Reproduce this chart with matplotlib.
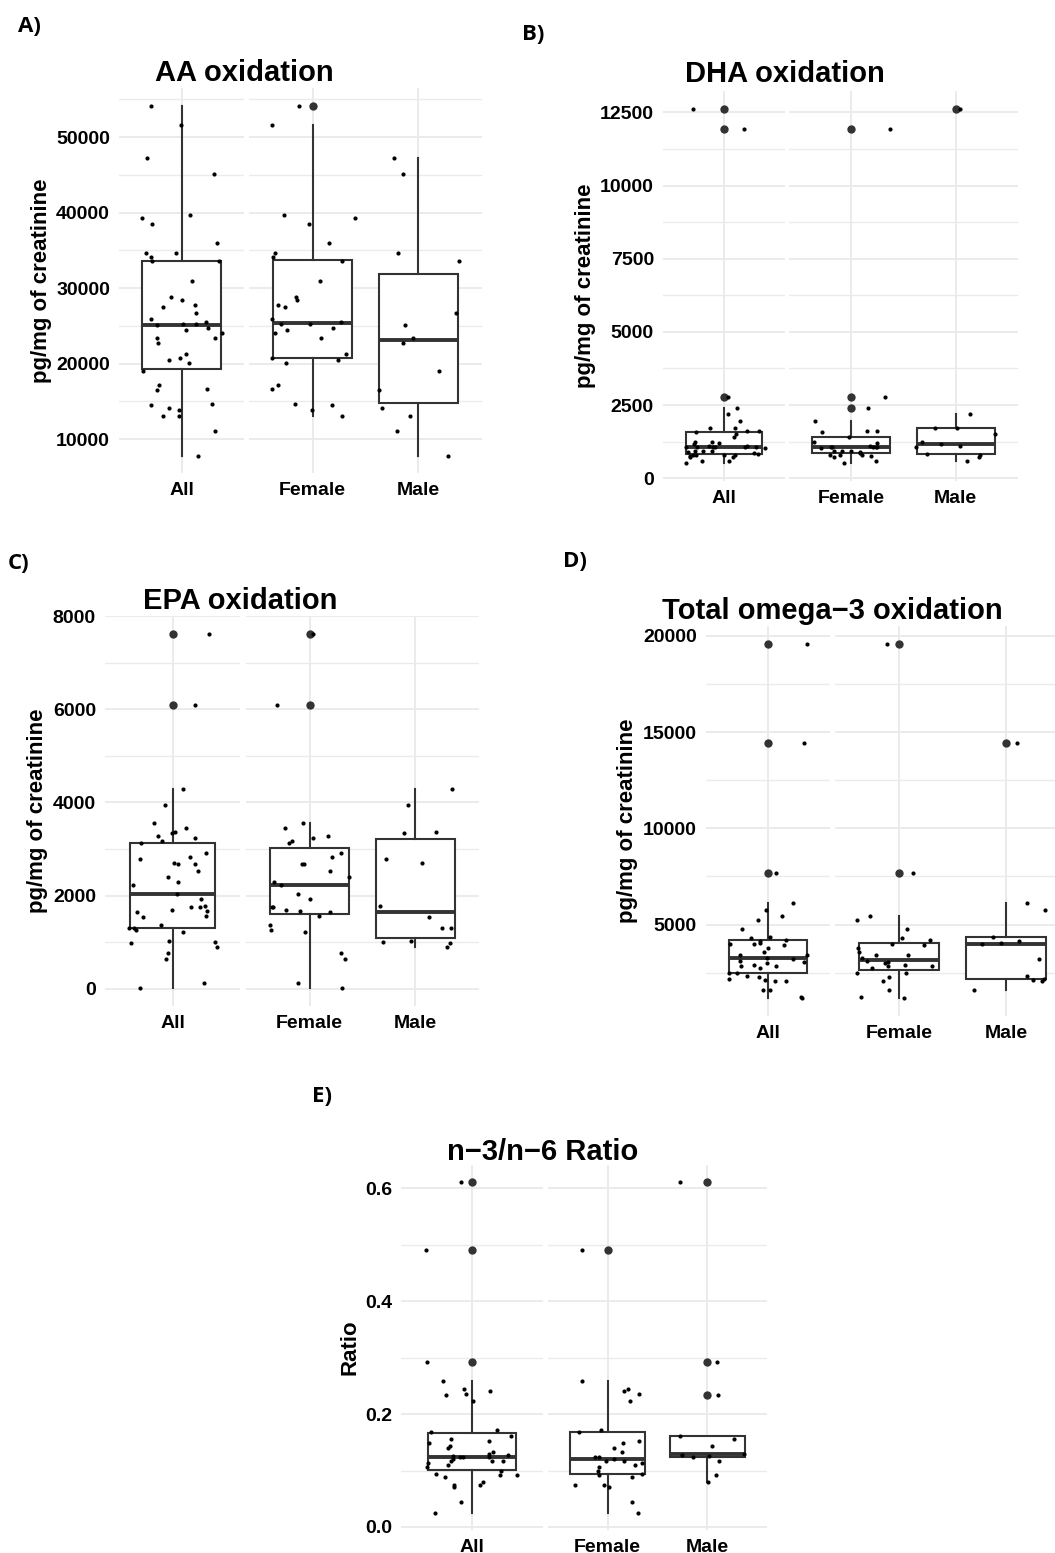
import numpy as np
import matplotlib
matplotlib.use("Agg")
import matplotlib.pyplot as plt
from matplotlib.ticker import MultipleLocator, FormatStrFormatter

plt.rcParams['font.family'] = ['Liberation Sans', 'DejaVu Sans']

groups = ['All', 'Female', 'Male']

# values (All = Female + Male)
aa_female = [54200, 51680, 39747, 39260, 38509, 36034, 34708, 34089, 33559, 30907,
             28873, 28432, 27724, 27547, 25956, 25514, 25293, 25249, 24763, 24409,
             24011, 23437, 21315, 20785, 20431, 20033, 17205, 16674, 14685, 14508,
             13889, 13094]
aa_male = [47261, 45095, 34708, 33647, 26752, 25072, 23437, 22730, 19017, 16453,
           14155, 13094, 11017, 7834]

dha_female = [11919, 2789, 2402, 1970, 1628, 1628, 1594, 1423, 1252, 1207, 1116,
              1081, 1081, 1081, 1081, 1059, 1036, 922, 922, 922, 899, 854, 808, 808,
              808, 763, 740, 603, 512]
dha_male = [12625, 2197, 1708, 1708, 1514, 1229, 1173, 1116, 1081, 831, 808, 717, 603]

epa_female = [7627, 6100, 3555, 3448, 3269, 3247, 3176, 3125, 2910, 2839, 2688, 2674,
              2530, 2394, 2301, 2229, 2036, 1921, 1763, 1763, 1692, 1677, 1642, 1563,
              1369, 1262, 1226, 774, 645, 115, 7]
epa_male = [4286, 3950, 3369, 3347, 2788, 2695, 1778, 1534, 1312, 1297, 1025, 1011,
            975, 889]

om3_female = [19584, 7682, 5467, 5225, 4792, 4308, 4204, 4014, 3945, 3806, 3599, 3426,
              3426, 3270, 3097, 3080, 2993, 2907, 2872, 2872, 2734, 2474, 2474, 2301,
              2076, 1592, 1263, 1177]
om3_male = [14411, 6142, 5778, 4377, 4170, 4066, 4014, 3236, 2353, 2180, 2146, 2094, 1627]

ratio_female = [0.491, 0.259, 0.245, 0.241, 0.236, 0.224, 0.171, 0.169, 0.153, 0.149,
                0.140, 0.133, 0.124, 0.124, 0.121, 0.117, 0.117, 0.113, 0.109, 0.106,
                0.100, 0.094, 0.092, 0.088, 0.074, 0.074, 0.071, 0.044, 0.024]
ratio_male = [0.612, 0.292, 0.233, 0.162, 0.156, 0.143, 0.129, 0.128, 0.125, 0.124,
              0.116, 0.092, 0.079]

W, H = 1055, 1553
fig = plt.figure(figsize=(W / 100, H / 100), dpi=100)
rng = np.random.default_rng(11)  # jitter only

LINE = '#333333'
GRID = '#EBEBEB'


def px_axes(x0, x1, y0, y1, **kw):
    return fig.add_axes([x0 / W, 1 - y1 / H, (x1 - x0) / W, (y1 - y0) / H], **kw)


def draw_facet(ax, data, positions, labels):
    ax.boxplot(data, positions=positions, widths=0.75, whis=1.5, patch_artist=True,
               showcaps=False,
               boxprops=dict(facecolor='white', edgecolor=LINE, linewidth=1.5),
               medianprops=dict(color=LINE, linewidth=2.8),
               whiskerprops=dict(color=LINE, linewidth=1.5),
               flierprops=dict(marker='o', markerfacecolor=LINE, markeredgecolor='none',
                               markersize=6), zorder=2)
    for p, vals in zip(positions, data):
        off = rng.uniform(-0.4, 0.4, len(vals))
        ax.scatter(p + off, vals, s=9, color='black', linewidths=0, zorder=4)
    ax.set_xticks(positions)
    ax.set_xticklabels(labels, fontsize=14, fontweight='bold')
    ax.grid(axis='x', color=GRID, linewidth=1.4, zorder=0)
    for s in ax.spines.values():
        s.set_visible(False)
    ax.tick_params(length=0, which='both', pad=6.5)
    ax.set_axisbelow(True)


def panel(female, male, title, ylabel, major, fmt, L, R, top, bot, title_xy, ylab_x, tag, tag_xy):
    allv = female + male
    axL = px_axes(L[0], L[1], top, bot)
    axR = px_axes(R[0], R[1], top, bot, sharey=axL)
    draw_facet(axL, [allv], [1], groups[:1])
    draw_facet(axR, [female, male], [1, 2], groups[1:])
    axL.set_xlim(0.4, 1.6)
    axR.set_xlim(0.4, 2.6)
    lo, hi = min(allv), max(allv)
    pad = 0.05 * (hi - lo)
    axL.set_ylim(lo - pad, hi + pad)
    for ax in (axL, axR):
        ax.yaxis.set_major_locator(MultipleLocator(major))
        ax.yaxis.set_minor_locator(MultipleLocator(major / 2))
        ax.grid(axis='y', which='major', color=GRID, linewidth=1.4, zorder=0)
        ax.grid(axis='y', which='minor', color=GRID, linewidth=1.0, zorder=0)
    axL.yaxis.set_major_formatter(FormatStrFormatter(fmt))
    for t in axL.get_yticklabels():
        t.set_fontsize(14)
        t.set_fontweight('bold')
    axR.tick_params(axis='y', labelleft=False)
    fig.text(title_xy[0] / W, 1 - title_xy[1] / H, title, fontsize=21, fontweight='bold',
             ha='center', va='center')
    fig.text(ylab_x / W, 1 - (top + bot) / 2 / H, ylabel, fontsize=16, fontweight='bold',
             rotation=90, ha='center', va='center')
    fig.text(tag_xy[0] / W, 1 - tag_xy[1] / H, tag, fontsize=16, fontweight='bold',
             family=['Open Sans', 'DejaVu Sans'], ha='left', va='center')


ylab = 'pg/mg of creatinine'
panel(aa_female, aa_male, 'AA oxidation', ylab, 10000, '%d',
      (119, 244), (249, 482), 88, 473, (244, 73), 42, 'A)', (18, 26))
panel(dha_female, dha_male, 'DHA oxidation', ylab, 2500, '%d',
      (663, 785), (789, 1018), 91, 481, (785, 74), 585, 'B)', (522, 35))
panel(epa_female, epa_male, 'EPA oxidation', ylab, 2000, '%d',
      (105, 240), (246, 479), 616, 1006, (240, 601), 38, 'C)', (8, 563))
panel(om3_female, om3_male, 'Total omega\u22123 oxidation', ylab, 5000, '%d',
      (706, 830), (835, 1070), 626, 1016, (832, 611), 627, 'D)', (563, 561))
panel(ratio_female, ratio_male, 'n\u22123/n\u22126 Ratio', 'Ratio', 0.2, '%.1f',
      (401, 543), (548, 767), 1165, 1530, (543, 1152), 350, 'E)', (312, 1096))

fig.savefig('out.png', dpi=100, facecolor='white')
